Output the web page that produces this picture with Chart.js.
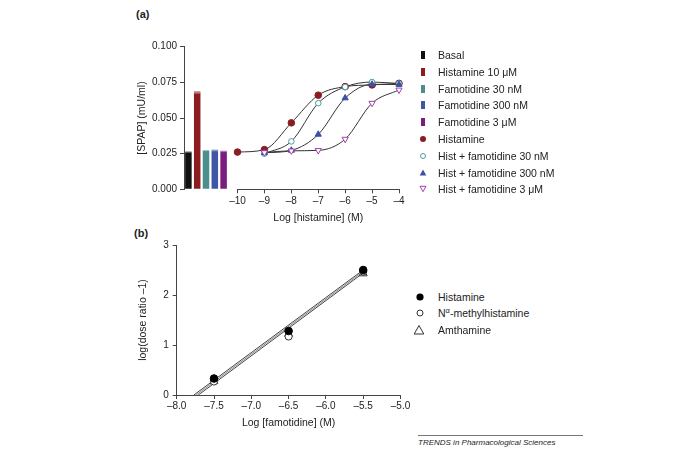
<!DOCTYPE html>
<html><head><meta charset="utf-8">
<script src="https://cdn.jsdelivr.net/npm/chart.js@4.4.0/dist/chart.umd.min.js"></script>
<style>
html,body{margin:0;padding:0;background:#fff;width:691px;height:453px;overflow:hidden;font-family:"Liberation Sans",Arial,Helvetica,sans-serif;color:#222;}
canvas{position:absolute;}
.lab{position:absolute;font-size:11px;font-weight:bold;line-height:12px;}
.row{position:absolute;font-size:10.5px;line-height:12px;white-space:nowrap;height:12px;}
.row svg{position:absolute;top:0;}
.row span{position:absolute;top:0;}
#foot{position:absolute;left:418px;top:438px;font-size:8px;font-style:italic;line-height:9px;white-space:nowrap;color:#222;}
#footline{position:absolute;left:418px;top:435px;width:165px;height:1px;background:#777;}
</style></head><body>
<div class="lab" style="left:136px;top:8px;">(a)</div>
<div class="lab" style="left:134px;top:227px;">(b)</div>
<canvas id="cA1" width="131" height="175" style="left:100px;top:30px;"></canvas>
<canvas id="cA2" width="186" height="205" style="left:225px;top:30px;"></canvas>
<canvas id="cB" width="315" height="210" style="left:100px;top:225px;"></canvas>
<div id="legA"></div>
<div id="legB"></div>
<div id="footline"></div>
<div id="foot">TRENDS in Pharmacological Sciences</div>
<script>
// ---------- data: panel (a) ----------
const barCategories = ['Basal', 'Histamine 10 \u03bcM', 'Famotidine 30 nM', 'Famotidine 300 nM', 'Famotidine 3 \u03bcM'];
const barValues = [0.0262, 0.0680, 0.0272, 0.0273, 0.0266];
const barErrors = [0.0005, 0.0009, 0.0004, 0.0006, 0.0005];
const yTicksA = [0, 0.025, 0.05, 0.075, 0.1];
const xTicksA = [-10, -9, -8, -7, -6, -5, -4];

const logHistamine = [-10, -9, -8, -7, -6, -5, -4];
const histamine      = [0.0261, 0.0278, 0.0466, 0.0660, 0.0720, 0.0732, 0.0743];
const histFam30nM    = [null, 0.0250, 0.0336, 0.0604, 0.0718, 0.0752, 0.0742];
const histFam300nM   = [null, 0.0256, 0.0273, 0.0385, 0.0640, 0.0736, 0.0735];
const histFam3uM     = [null, 0.0258, 0.0270, 0.0273, 0.0352, 0.0604, 0.0697];
const curveNames = ['Histamine', 'Hist + famotidine 30 nM', 'Hist + famotidine 300 nM', 'Hist + famotidine 3 \u03bcM'];

// ---------- data: panel (b) ----------
const logFamotidine = [-7.5, -6.5, -5.5];
const histamineDR = [0.33, 1.28, 2.50];
const methylhistamineDR = [0.27, 1.17, 2.47];
const amthamineDR = [0.28, 1.22, 2.43];
const fitLineX = [[-7.77, -5.5], [-7.74, -5.5], [-7.71, -5.5]];
const fitLineY = [[0, 2.50], [0, 2.47], [0, 2.44]];
const yTicksB = [0, 1, 2, 3];
const xTicksB = [-8, -7.5, -7, -6.5, -6, -5.5, -5];

// ---------- styles ----------
const FONT = '"Liberation Sans", Arial, Helvetica, sans-serif';
const tickFont = {family: FONT, size: 10};
const titleFont = {family: FONT, size: 10.5};
const txt = '#222';
const axisCol = '#444';
const barColors = ['#111111', '#8b1c22', '#4b8f8d', '#3f55a6', '#7b1d7e'];
const curveCols = ['#8b1c22', '#4a9c9b', '#3b51a3', '#a13fae'];
const fmt = (v, d) => (v < 0 ? '\u2013' : '') + Math.abs(v).toFixed(d);

const fixedTicks = arr => s => { s.ticks = arr.map(v => ({value: v})); };

// error cap plugin for bars
const errPlugin = {
  id: 'errcaps',
  afterDatasetsDraw(chart) {
    const meta = chart.getDatasetMeta(0);
    const y = chart.scales.y, ctx = chart.ctx;
    meta.data.forEach((bar, i) => {
      const w = bar.width, x0 = bar.x - w / 2;
      const v = barValues[i], e = barErrors[i];
      const yTop = y.getPixelForValue(v + e), yV = y.getPixelForValue(v), yLo = y.getPixelForValue(v - e);
      ctx.save();
      ctx.fillStyle = 'rgba(255,255,255,0.45)';
      ctx.fillRect(x0, yV, w, yLo - yV);
      ctx.globalAlpha = 0.45;
      ctx.fillStyle = barColors[i];
      ctx.fillRect(x0, yTop, w, yV - yTop);
      ctx.restore();
    });
  }
};

// ---------- chart A1: bars ----------
new Chart(document.getElementById('cA1'), {
  type: 'bar',
  data: {labels: barCategories, datasets: [{data: barValues, backgroundColor: barColors, borderWidth: 0, barPercentage: 1, categoryPercentage: 0.74}]},
  options: {
    responsive: false, animation: false, devicePixelRatio: 1,
    layout: {padding: {left: 0, right: 3, top: 16.7, bottom: 15.7}},
    plugins: {legend: {display: false}, tooltip: {enabled: false}},
    scales: {
      x: {display: false},
      y: {
        min: 0, max: 0.1,
        afterBuildTicks: fixedTicks(yTicksA),
        afterFit: s => { s.width = 84; },
        ticks: {font: tickFont, color: txt, padding: 3, callback: v => v.toFixed(3)},
        grid: {drawOnChartArea: false, tickLength: 4, color: axisCol},
        border: {color: axisCol, width: 1},
        title: {display: true, text: '[SPAP] (mU/ml)', font: titleFont, color: txt, padding: {top: 35.7, bottom: 0}}
      }
    }
  },
  plugins: [errPlugin]
});

// ---------- chart A2: concentration-response curves ----------
const toPts = arr => logHistamine.map((x, i) => arr[i] == null ? null : {x: x, y: arr[i]}).filter(p => p);
const curveSeries = [histamine, histFam30nM, histFam300nM, histFam3uM];
const markerStyles = [
  {pointStyle: 'circle', pointRadius: 3.3, pointBackgroundColor: curveCols[0], pointBorderColor: curveCols[0], pointBorderWidth: 1, pointRotation: 0},
  {pointStyle: 'circle', pointRadius: 2.8, pointBackgroundColor: '#fff', pointBorderColor: curveCols[1], pointBorderWidth: 1, pointRotation: 0},
  {pointStyle: 'triangle', pointRadius: 3.6, pointBackgroundColor: curveCols[2], pointBorderColor: curveCols[2], pointBorderWidth: 1, pointRotation: 0},
  {pointStyle: 'triangle', pointRadius: 3.6, pointBackgroundColor: '#fff', pointBorderColor: curveCols[3], pointBorderWidth: 1, pointRotation: 180}
];
const a2sets = [];
curveSeries.forEach((arr, i) => {
  a2sets.push({label: curveNames[i] + ' fit', data: toPts(arr), showLine: true, borderColor: '#333', borderWidth: 1,
    pointRadius: 0, cubicInterpolationMode: 'monotone', fill: false, order: 10, clip: false});
});
[3, 2, 1, 0].forEach(i => {
  a2sets.push(Object.assign({label: curveNames[i], data: toPts(curveSeries[i]), showLine: false, order: 1, clip: false}, markerStyles[i]));
});
new Chart(document.getElementById('cA2'), {
  type: 'line',
  data: {datasets: a2sets},
  options: {
    responsive: false, animation: false, devicePixelRatio: 1,
    layout: {padding: {left: 12.5, right: 12, top: 16.7, bottom: 0}},
    plugins: {legend: {display: false}, tooltip: {enabled: false}},
    scales: {
      x: {
        type: 'linear', min: -10, max: -4,
        afterBuildTicks: fixedTicks(xTicksA),
        afterFit: s => { s.height = 45.7; },
        ticks: {font: tickFont, color: txt, padding: 2, callback: v => fmt(v, 0), maxRotation: 0},
        grid: {drawOnChartArea: false, tickLength: 4, color: axisCol},
        border: {color: axisCol, width: 1},
        title: {display: true, text: 'Log [histamine] (M)', font: titleFont, color: txt, padding: {top: 0, bottom: 10.7}}
      },
      y: {display: false, min: 0, max: 0.1}
    }
  }
});

// ---------- chart B: Schild plot ----------
const bPts = arr => logFamotidine.map((x, i) => ({x: x, y: arr[i]}));
const bsets = [];
fitLineX.forEach((xs, k) => {
  bsets.push({label: 'fit' + k, data: xs.map((x, j) => ({x: x, y: fitLineY[k][j]})), showLine: true,
    borderColor: k === 1 ? '#8a8a8a' : '#444', borderWidth: 1, pointRadius: 0, order: 10, clip: false});
});
bsets.push({label: 'Amthamine', data: bPts(amthamineDR), showLine: false, pointStyle: 'triangle', pointRadius: 4.6,
  pointBackgroundColor: '#fff', pointBorderColor: '#333', pointBorderWidth: 1, order: 3, clip: false});
bsets.push({label: 'N\u03b1-methylhistamine', data: bPts(methylhistamineDR), showLine: false, pointStyle: 'circle', pointRadius: 3.6,
  pointBackgroundColor: '#fff', pointBorderColor: '#333', pointBorderWidth: 1, order: 2, clip: false});
bsets.push({label: 'Histamine', data: bPts(histamineDR), showLine: false, pointStyle: 'circle', pointRadius: 3.8,
  pointBackgroundColor: '#000', pointBorderColor: '#000', pointBorderWidth: 1, order: 1, clip: false});
new Chart(document.getElementById('cB'), {
  type: 'line',
  data: {datasets: bsets},
  options: {
    responsive: false, animation: false, devicePixelRatio: 1,
    layout: {padding: {left: 0, right: 14.5, top: 20, bottom: 0}},
    plugins: {legend: {display: false}, tooltip: {enabled: false}},
    scales: {
      x: {
        type: 'linear', min: -8, max: -5,
        afterBuildTicks: fixedTicks(xTicksB),
        afterFit: s => { s.height = 40; },
        ticks: {font: tickFont, color: txt, padding: 1, callback: v => fmt(v, 1), maxRotation: 0},
        grid: {drawOnChartArea: false, tickLength: 4, color: axisCol},
        border: {color: axisCol, width: 1},
        title: {display: true, text: 'Log [famotidine] (M)', font: titleFont, color: txt, padding: {top: 0, bottom: 5.4}}
      },
      y: {
        min: 0, max: 3,
        afterBuildTicks: fixedTicks(yTicksB),
        afterFit: s => { s.width = 76.7; },
        ticks: {font: tickFont, color: txt, padding: 4, callback: v => String(v)},
        grid: {drawOnChartArea: false, tickLength: 4, color: axisCol},
        border: {color: axisCol, width: 1},
        title: {display: true, text: 'log(dose ratio \u20131)', font: titleFont, color: txt, padding: {top: 37, bottom: 0}}
      }
    }
  }
});

// ---------- legends (HTML) ----------
function svgMarker(kind, color) {
  if (kind === 'rect') return '<svg width="8" height="12"><rect x="2" y="2" width="4" height="8" fill="' + color + '"/></svg>';
  if (kind === 'dot') return '<svg width="8" height="12"><circle cx="4" cy="6" r="3" fill="' + color + '"/></svg>';
  if (kind === 'ring') return '<svg width="8" height="12"><circle cx="4" cy="6" r="2.5" fill="#fff" stroke="' + color + '" stroke-width="1"/></svg>';
  if (kind === 'tri') return '<svg width="8" height="12"><polygon points="4,2.6 7.3,8.4 0.7,8.4" fill="' + color + '"/></svg>';
  if (kind === 'itri') return '<svg width="8" height="12"><polygon points="1,3.3 7,3.3 4,8.7" fill="#fff" stroke="' + color + '" stroke-width="1"/></svg>';
  if (kind === 'bdot') return '<svg width="10" height="12"><circle cx="5" cy="6" r="3.6" fill="#000"/></svg>';
  if (kind === 'bring') return '<svg width="10" height="12"><circle cx="5" cy="6" r="3" fill="#fff" stroke="#333" stroke-width="1"/></svg>';
  if (kind === 'btri') return '<svg width="12" height="12"><polygon points="6,1.5 10.8,10 1.2,10" fill="#fff" stroke="#333" stroke-width="1"/></svg>';
}
const legAItems = barCategories.map((n, i) => ({name: n, kind: 'rect', color: barColors[i]}))
  .concat([{name: curveNames[0], kind: 'dot', color: curveCols[0]},
           {name: curveNames[1], kind: 'ring', color: curveCols[1]},
           {name: curveNames[2], kind: 'tri', color: curveCols[2]},
           {name: curveNames[3], kind: 'itri', color: curveCols[3]}]);
let htmlA = '';
legAItems.forEach((it, i) => {
  const top = 49 + i * 16.8;
  htmlA += '<div class="row" style="left:419px;top:' + top.toFixed(1) + 'px;">' + svgMarker(it.kind, it.color) +
           '<span style="left:19px;">' + it.name + '</span></div>';
});
document.getElementById('legA').innerHTML = htmlA;
const legBItems = [{name: 'Histamine', kind: 'bdot'}, {name: 'N<sup style="font-size:7.5px;vertical-align:4px;line-height:0">\u03b1</sup>-methylhistamine', kind: 'bring'}, {name: 'Amthamine', kind: 'btri'}];
let htmlB = '';
legBItems.forEach((it, i) => {
  const top = 291 + i * 16.3;
  const left = it.kind === 'btri' ? 413 : 414.5;
  htmlB += '<div class="row" style="left:' + left + 'px;top:' + top.toFixed(1) + 'px;">' + svgMarker(it.kind) +
           '<span style="left:' + (438 - left) + 'px;">' + it.name + '</span></div>';
});
document.getElementById('legB').innerHTML = htmlB;
</script>
</body></html>
